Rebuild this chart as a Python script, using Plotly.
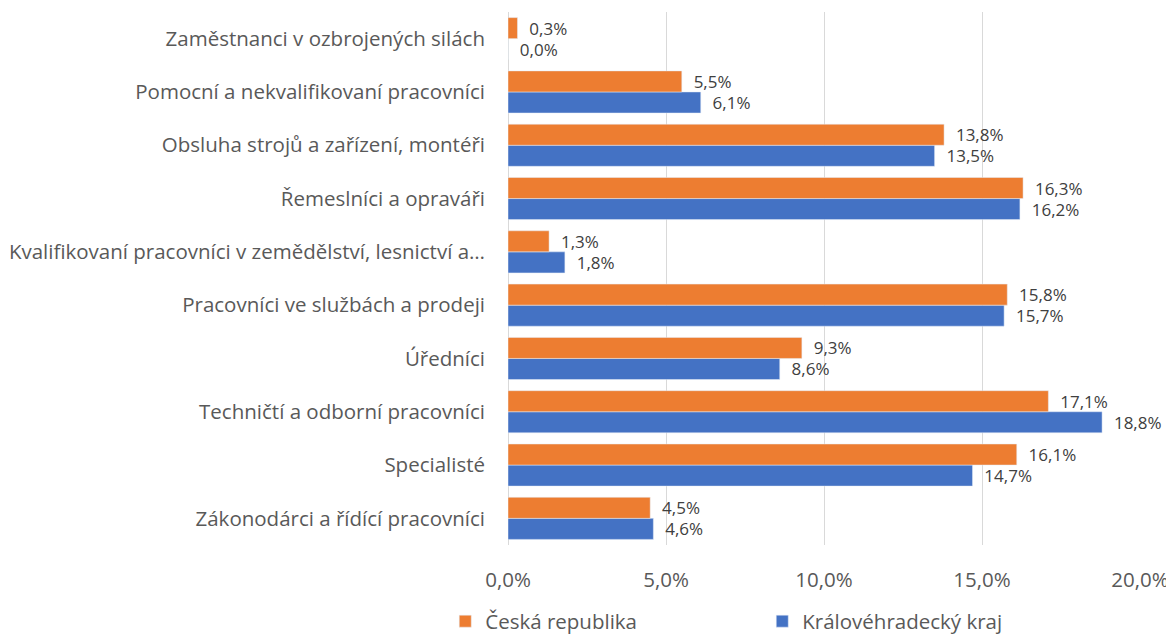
import plotly.graph_objects as go

categories = [
    "Zákonodárci a řídící pracovníci",
    "Specialisté",
    "Techničtí a odborní pracovníci",
    "Úředníci",
    "Pracovníci ve službách a prodeji",
    "Kvalifikovaní pracovníci v zemědělství, lesnictví a…",
    "Řemeslníci a opraváři",
    "Obsluha strojů a zařízení, montéři",
    "Pomocní a nekvalifikovaní pracovníci",
    "Zaměstnanci v ozbrojených silách",
]
cr_values = [4.5, 16.1, 17.1, 9.3, 15.8, 1.3, 16.3, 13.8, 5.5, 0.3]
kh_values = [4.6, 14.7, 18.8, 8.6, 15.7, 1.8, 16.2, 13.5, 6.1, 0.0]
tick_vals = [0, 5, 10, 15, 20]
tick_text = ["0,0%", "5,0%", "10,0%", "15,0%", "20,0%"]


def fmt(v):
    return "\u00a0\u00a0" + f"{v:.1f}".replace(".", ",") + "%"


FONT = "Open Sans"
LABEL = dict(family=FONT, size=17, color="#404040")
fig = go.Figure()
fig.add_trace(go.Bar(
    y=categories, x=kh_values, orientation="h", name="Královéhradecký kraj",
    marker=dict(color="#4472C4"),
    text=[fmt(v) for v in kh_values], textposition="outside",
    textfont=LABEL, constraintext="none",
    cliponaxis=False,
))
fig.add_trace(go.Bar(
    y=categories, x=cr_values, orientation="h", name="Česká republika",
    marker=dict(color="#ED7D31"),
    text=[fmt(v) for v in cr_values], textposition="outside",
    textfont=LABEL, constraintext="none",
    cliponaxis=False,
))

fig.update_layout(
    width=1166, height=631,
    barmode="group", bargap=0.21, bargroupgap=0,
    plot_bgcolor="white", paper_bgcolor="white",
    margin=dict(l=500, r=34, t=4, b=94),
    font=dict(family=FONT, color="#595959"),
    xaxis=dict(range=[0, 20], tickvals=tick_vals, ticktext=tick_text,
               showgrid=True, gridcolor="#D9D9D9", gridwidth=1,
               zeroline=True, zerolinecolor="#D9D9D9", zerolinewidth=1,
               tickfont=dict(size=20.5, color="#595959"), ticklen=0,
               ticks="", automargin=False, ticklabelstandoff=20),
    yaxis=dict(tickfont=dict(size=20.5, color="#595959"), ticks="",
               ticklen=0, automargin=False, ticklabelstandoff=22),
    legend=dict(orientation="h", xref="container", yref="container",
                x=0.375, xanchor="left", y=0.028, yanchor="middle",
                traceorder="reversed", font=dict(size=20.5, color="#595959"),
                entrywidth=272, entrywidthmode="pixels"),
    showlegend=True,
)

fig.write_html("out.html")
